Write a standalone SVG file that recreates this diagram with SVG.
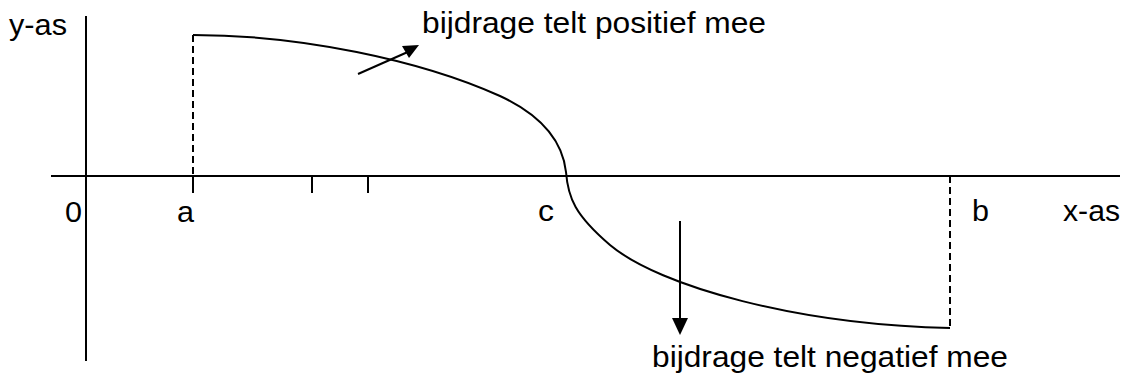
<svg xmlns="http://www.w3.org/2000/svg" width="1128" height="376" viewBox="0 0 1128 376">
<style>
.ln{stroke:#000;stroke-width:2;fill:none}
.dash{stroke:#000;stroke-width:2;fill:none;stroke-dasharray:7,4}
.t{font-family:"Liberation Sans",Arial,sans-serif;font-size:29px;fill:#000}
</style>
<rect width="1128" height="376" fill="#fff"/>
<g id="axes">
<line class="ln" x1="86" y1="16" x2="86" y2="361"/>
<line class="ln" x1="51" y1="176" x2="1120" y2="176"/>
<line class="ln" x1="193" y1="176" x2="193" y2="193"/>
<line class="ln" x1="312" y1="176" x2="312" y2="193"/>
<line class="ln" x1="368" y1="176" x2="368" y2="193"/>
</g>
<g id="curve">
<path class="ln" d="M193,35 C300,35 420,60 500,96 C545,117 563,145 566,172 C568,198 575,215 610,245 C660,287 800,325 950,328"/>
<line class="dash" x1="193" y1="35" x2="193" y2="176"/>
<line class="dash" x1="950" y1="176" x2="950" y2="328"/>
</g>
<g id="connectors">
<line class="ln" x1="358" y1="74" x2="410" y2="51"/>
<polygon points="402,46 419,45 409,58" fill="#000"/>
<line class="ln" x1="680" y1="221" x2="680" y2="320"/>
<polygon points="672,318 688,318 680,335" fill="#000"/>
</g>
<g id="labels">
<text class="t" x="9" y="35" textLength="58" lengthAdjust="spacingAndGlyphs">y-as</text>
<text class="t" x="422" y="33" textLength="344" lengthAdjust="spacingAndGlyphs">bijdrage telt positief mee</text>
<text class="t" x="65" y="222" textLength="17" lengthAdjust="spacingAndGlyphs">0</text>
<text class="t" x="177" y="222" textLength="17" lengthAdjust="spacingAndGlyphs">a</text>
<text class="t" x="538" y="221" textLength="16" lengthAdjust="spacingAndGlyphs">c</text>
<text class="t" x="972" y="221" textLength="17" lengthAdjust="spacingAndGlyphs">b</text>
<text class="t" x="1063" y="221" textLength="57" lengthAdjust="spacingAndGlyphs">x-as</text>
<text class="t" x="652" y="367" textLength="356" lengthAdjust="spacingAndGlyphs">bijdrage telt negatief mee</text>
</g>
</svg>
